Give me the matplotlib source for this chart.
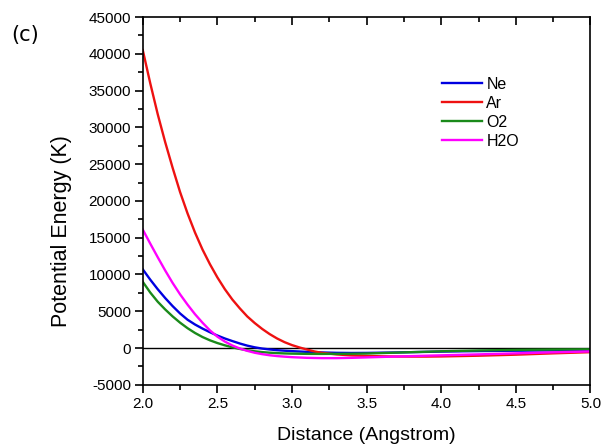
import numpy as np
import matplotlib.pyplot as plt
from matplotlib.ticker import MultipleLocator

plt.rcParams['font.family'] = ['Liberation Sans', 'DejaVu Sans']
plt.rcParams['axes.unicode_minus'] = False

# distances (Angstrom) and potential energies (K)
x_ne = [2.0, 2.05, 2.1, 2.15, 2.2, 2.25, 2.3, 2.35, 2.4, 2.45, 2.5, 2.55, 2.6, 2.65, 2.7, 2.75, 2.8, 2.85,
        2.9, 2.95, 3.0, 3.1, 3.2, 3.3, 3.4, 3.5, 3.7, 3.9, 4.0, 4.25, 4.5, 4.75, 5.0]
ne = [10700, 9300, 8000, 6800, 5700, 4700, 3850, 3200, 2650, 2150, 1700, 1300, 950, 620, 330, 100, -70, -190,
      -290, -360, -420, -520, -600, -650, -670, -660, -600, -520, -480, -410, -360, -320, -290]

x_ar = [2.0, 2.05, 2.1, 2.15, 2.2, 2.25, 2.3, 2.35, 2.4, 2.45, 2.5, 2.55, 2.6, 2.65, 2.7, 2.75, 2.8, 2.85,
        2.9, 2.95, 3.0, 3.05, 3.1, 3.15, 3.2, 3.3, 3.4, 3.5, 3.6, 3.7, 3.8, 3.9, 4.0, 4.25, 4.5, 4.75, 5.0]
ar = [40500, 36000, 31800, 28000, 24500, 21200, 18300, 15700, 13400, 11400, 9600, 8000, 6600, 5400, 4300,
      3400, 2600, 1900, 1300, 800, 400, 80, -200, -460, -650, -870, -1000, -1070, -1120, -1150, -1160, -1160,
      -1140, -1040, -900, -720, -560]

x_o2 = [2.0, 2.05, 2.1, 2.15, 2.2, 2.25, 2.3, 2.35, 2.4, 2.45, 2.5, 2.55, 2.6, 2.65, 2.7, 2.75, 2.8, 2.85,
        2.9, 2.95, 3.0, 3.1, 3.2, 3.3, 3.4, 3.5, 3.7, 3.9, 4.0, 4.25, 4.5, 4.75, 5.0]
o2 = [9000, 7550, 6300, 5250, 4300, 3450, 2700, 2050, 1500, 1050, 680, 370, 100, -120, -300, -440, -550, -630,
      -690, -730, -760, -790, -800, -790, -770, -740, -620, -500, -440, -330, -250, -200, -170]

x_h2o = [2.0, 2.05, 2.1, 2.15, 2.2, 2.25, 2.3, 2.35, 2.4, 2.45, 2.5, 2.55, 2.6, 2.65, 2.7, 2.75, 2.8, 2.85,
         2.9, 2.95, 3.0, 3.1, 3.2, 3.3, 3.4, 3.5, 3.7, 3.9, 4.0, 4.25, 4.5, 4.75, 5.0]
h2o = [16100, 14200, 12350, 10550, 8850, 7300, 5900, 4600, 3450, 2400, 1550, 880, 350, -60, -380, -640, -830,
       -980, -1090, -1170, -1240, -1330, -1370, -1370, -1330, -1270, -1150, -1040, -990, -860, -720, -580, -460]

fig = plt.figure(figsize=(6.05, 4.48), dpi=100)
ax = fig.add_axes([0.236, 0.141, 0.740, 0.821])

ax.axhline(0, color='black', lw=1.0, zorder=1)
ax.plot(x_ne, ne, color='#0000e0', lw=1.7, label='Ne')
ax.plot(x_ar, ar, color='#ee1111', lw=1.7, label='Ar')
ax.plot(x_o2, o2, color='#1a8a1a', lw=1.7, label='O2')
ax.plot(x_h2o, h2o, color='#ff00ff', lw=1.7, label='H2O')

ax.set_xlim(2.0, 5.0)
ax.set_ylim(-5000, 45000)
ax.xaxis.set_major_locator(MultipleLocator(0.5))
ax.xaxis.set_minor_locator(MultipleLocator(0.25))
ax.yaxis.set_major_locator(MultipleLocator(5000))
ax.yaxis.set_minor_locator(MultipleLocator(2500))
ax.xaxis.set_major_formatter(plt.FormatStrFormatter('%.1f'))

ax.tick_params(axis='x', which='both', direction='out', top=True, labelsize=11, width=1.2, pad=3)
ax.tick_params(axis='y', which='both', direction='out', labelsize=11, width=1.2, pad=3)
ax.tick_params(which='major', length=5.5)
ax.tick_params(which='minor', length=3.5)
# ticks on the top edge point inward
for t in ax.xaxis.get_major_ticks() + ax.xaxis.get_minor_ticks():
    t.tick2line.set_marker(3)
for s in ax.spines.values():
    s.set_linewidth(1.2)

ax.set_xlabel('Distance (Angstrom)', fontsize=14)
ax.xaxis.set_label_coords(0.5, -0.115)
ax.set_ylabel('Potential Energy (K)', fontsize=15.5)
ax.yaxis.set_label_coords(-0.159, 0.418)

ax.legend(loc='upper left', bbox_to_anchor=(0.655, 0.855), frameon=False,
          fontsize=11.5, handlelength=2.5, handletextpad=0.25, labelspacing=0.25,
          borderaxespad=0)

fig.text(0.018, 0.922, '(c)', fontsize=15, va='center', family='DejaVu Sans')

fig.savefig('out.png', dpi=100)
